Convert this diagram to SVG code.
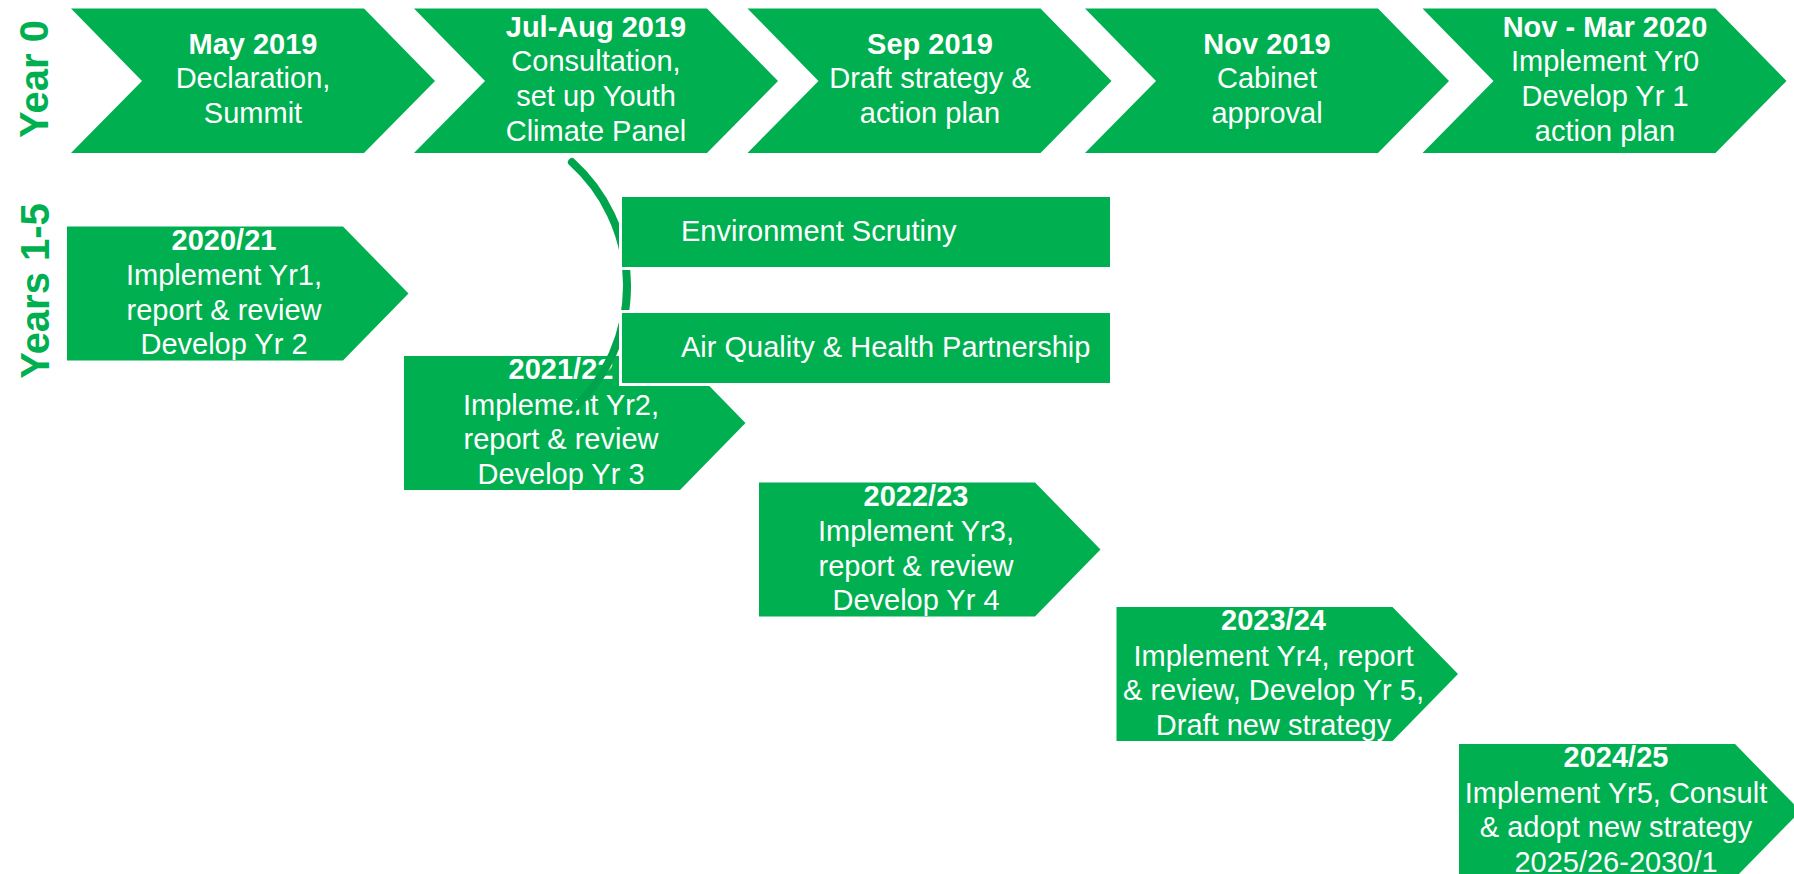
<svg xmlns="http://www.w3.org/2000/svg" width="1794" height="874" viewBox="0 0 1794 874">
<style>
.shape{fill:#00B050;}
.box{fill:#00B050;stroke:#ffffff;stroke-width:3;}
.t{font-family:"Liberation Sans",Arial,sans-serif;font-size:29px;fill:#ffffff;text-anchor:middle;}
.b{font-weight:bold;}
.l{font-family:"Liberation Sans",Arial,sans-serif;font-size:29px;fill:#ffffff;}
.side{font-family:"Liberation Sans",Arial,sans-serif;font-size:40px;font-weight:bold;fill:#00B050;text-anchor:middle;}
.arc{fill:none;stroke:#00A44D;stroke-width:8;stroke-linecap:round;}
</style>
<rect width="1794" height="874" fill="#ffffff"/>

<g id="label-year0"><text class="side" transform="translate(48,79) rotate(-90)">Year 0</text></g>
<g id="label-years15"><text class="side" transform="translate(49,291) rotate(-90)">Years 1-5</text></g>

<g id="chev-may2019">
<polygon class="shape" points="71,8.5 364,8.5 435,81 364,153 71,153 142,81"/>
<text class="t b" x="253" y="53.6">May 2019</text>
<text class="t" x="253" y="88.3">Declaration,</text>
<text class="t" x="253" y="123">Summit</text>
</g>
<g id="chev-julaug2019">
<polygon class="shape" points="414,8.5 707,8.5 778,81 707,153 414,153 485,81"/>
<text class="t b" x="596" y="36.5">Jul-Aug 2019</text>
<text class="t" x="596" y="71.2">Consultation,</text>
<text class="t" x="596" y="106">set up Youth</text>
<text class="t" x="596" y="140.6">Climate Panel</text>
</g>
<g id="chev-sep2019">
<polygon class="shape" points="747.5,8.5 1040.5,8.5 1111.5,81 1040.5,153 747.5,153 818.5,81"/>
<text class="t b" x="930" y="53.6">Sep 2019</text>
<text class="t" x="930" y="88.3">Draft strategy &amp;</text>
<text class="t" x="930" y="123">action plan</text>
</g>
<g id="chev-nov2019">
<polygon class="shape" points="1085,8.5 1378,8.5 1449,81 1378,153 1085,153 1156,81"/>
<text class="t b" x="1267" y="53.6">Nov 2019</text>
<text class="t" x="1267" y="88.3">Cabinet</text>
<text class="t" x="1267" y="123">approval</text>
</g>
<g id="chev-novmar2020">
<polygon class="shape" points="1422.5,8.5 1715.5,8.5 1786.5,81 1715.5,153 1422.5,153 1493.5,81"/>
<text class="t b" x="1605" y="36.5">Nov - Mar 2020</text>
<text class="t" x="1605" y="71.2">Implement Yr0</text>
<text class="t" x="1605" y="106">Develop Yr 1</text>
<text class="t" x="1605" y="140.6">action plan</text>
</g>

<g id="box-2020">
<polygon class="shape" points="67,226.5 343,226.5 408.5,293.5 343,360.5 67,360.5"/>
<text class="t b" x="224" y="249.5">2020/21</text>
<text class="t" x="224" y="285">Implement Yr1,</text>
<text class="t" x="224" y="319.5">report &amp; review</text>
<text class="t" x="224" y="354">Develop Yr 2</text>
</g>
<g id="box-2021">
<polygon class="shape" points="404,356 680,356 745.5,423 680,490 404,490"/>
<text class="t b" x="561" y="379">2021/22</text>
<text class="t" x="561" y="414.5">Implement Yr2,</text>
<text class="t" x="561" y="449">report &amp; review</text>
<text class="t" x="561" y="483.5">Develop Yr 3</text>
</g>
<g id="box-2022">
<polygon class="shape" points="759,482.5 1035,482.5 1100.5,549.5 1035,616.5 759,616.5"/>
<text class="t b" x="916" y="505.5">2022/23</text>
<text class="t" x="916" y="541">Implement Yr3,</text>
<text class="t" x="916" y="575.5">report &amp; review</text>
<text class="t" x="916" y="610">Develop Yr 4</text>
</g>
<g id="box-2023">
<polygon class="shape" points="1116.5,607 1392.5,607 1458,674 1392.5,741 1116.5,741"/>
<text class="t b" x="1273.5" y="630">2023/24</text>
<text class="t" x="1273.5" y="665.5">Implement Yr4, report</text>
<text class="t" x="1273.5" y="700">&amp; review, Develop Yr 5,</text>
<text class="t" x="1273.5" y="734.5">Draft new strategy</text>
</g>
<g id="box-2024">
<polygon class="shape" points="1459,744 1735,744 1800.5,811 1735,878 1459,878"/>
<text class="t b" x="1616" y="767">2024/25</text>
<text class="t" x="1616" y="802.5">Implement Yr5, Consult</text>
<text class="t" x="1616" y="837">&amp; adopt new strategy</text>
<text class="t" x="1616" y="871.5">2025/26-2030/1</text>
</g>

<g id="connectors">
<path class="arc" d="M 571.9 162.1 A 167 167 0 0 1 575.3 406.9"/>
</g>

<g id="env-scrutiny">
<rect class="box" x="620.5" y="195.5" width="491" height="73"/>
<text class="l" x="681" y="241">Environment Scrutiny</text>
</g>
<g id="air-quality">
<rect class="box" x="620.5" y="311.5" width="491" height="73"/>
<text class="l" x="681" y="357">Air Quality &amp; Health Partnership</text>
</g>
</svg>
